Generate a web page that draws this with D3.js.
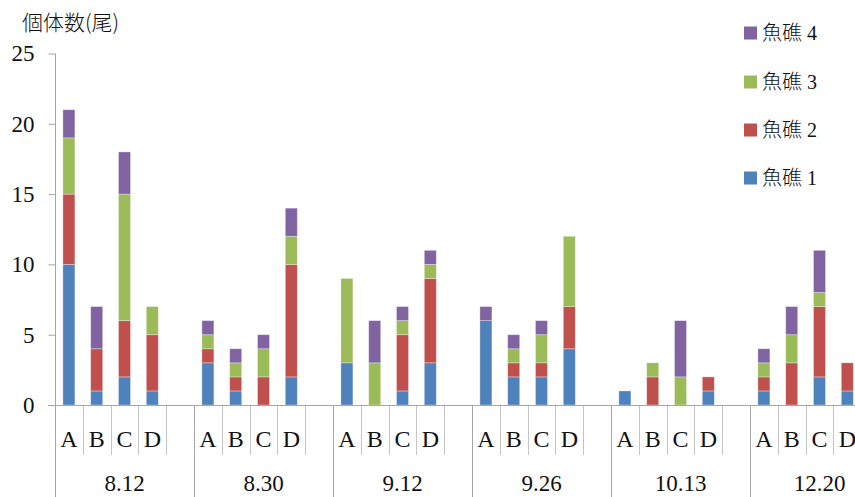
<!DOCTYPE html>
<html>
<head>
<meta charset="utf-8">
<script src="https://cdn.jsdelivr.net/npm/d3@7"></script>
<style>
  body { margin: 0; background: #fff; }
  svg { display: block; }
</style>
</head>
<body>
<svg id="chart" width="855" height="497"></svg>
<script>
// Survey dates and sampling sites
const dates = ["8.12", "8.30", "9.12", "9.26", "10.13", "12.20"];
const sites = ["A", "B", "C", "D"];
const seriesNames = ["魚礁 1", "魚礁 2", "魚礁 3", "魚礁 4"];

// Fish counts per reef: one row per date, one value per site (A–D)
const reef1 = [[10, 1, 2, 1], [3, 1, 0, 2], [3, 0, 1, 3], [6, 2, 2, 4], [1, 0, 0, 1], [1, 0, 2, 1]];
const reef2 = [[5, 3, 4, 4], [1, 1, 2, 8], [0, 0, 4, 6], [0, 1, 1, 3], [0, 2, 0, 1], [1, 3, 5, 2]];
const reef3 = [[4, 0, 9, 2], [1, 1, 2, 2], [6, 3, 1, 1], [0, 1, 2, 5], [0, 1, 2, 0], [1, 2, 1, 0]];
const reef4 = [[2, 3, 3, 0], [1, 1, 1, 2], [0, 3, 1, 1], [1, 1, 1, 0], [0, 0, 4, 0], [1, 2, 3, 0]];

const yTicks = [0, 5, 10, 15, 20, 25];
const colors = ["#4F81BD", "#C0504D", "#9BBB59", "#8064A2"];

const svg = d3.select("#chart");
const serif = "'Liberation Serif', 'DejaVu Serif', serif";
const cjk = "'Liberation Serif', 'Noto Sans CJK JP', sans-serif";

// Each date gets four site slots plus one empty spacer slot
const slotKeys = dates.flatMap(d => [...sites.map(s => d + "|" + s), d + "|"]);
const slotW = 27.8;
const x0 = 55;
const x = d3.scaleBand().domain(slotKeys).range([x0, x0 + slotKeys.length * slotW]);
const y = d3.scaleLinear().domain([0, 25]).range([405, 53.5]);

// Flat table for stacking
const keys = ["r1", "r2", "r3", "r4"];
const rows = [];
dates.forEach((d, i) => sites.forEach((s, j) => {
  rows.push({ key: d + "|" + s, r1: reef1[i][j], r2: reef2[i][j], r3: reef3[i][j], r4: reef4[i][j] });
}));
const stacked = d3.stack().keys(keys)(rows);

// Category axis: slot dividers (short) and date dividers (long)
const axisG = svg.append("g");
dates.forEach(d => {
  ["B", "C", "D", ""].forEach(s => {
    const xx = Math.round(x(d + "|" + s)) + 0.5;
    axisG.append("line").attr("x1", xx).attr("x2", xx).attr("y1", 405).attr("y2", 455)
      .attr("stroke", "#c4c4c4").attr("stroke-width", 1);
  });
  const xs = Math.round(x(d + "|A")) + 0.5;
  if (d !== dates[0]) {
    axisG.append("line").attr("x1", xs).attr("x2", xs).attr("y1", 405).attr("y2", 497)
      .attr("stroke", "#a6a6a6").attr("stroke-width", 1);
  }
});

// Bars
const barW = 12;
svg.append("g").selectAll("g").data(stacked).join("g")
  .attr("fill", (d, i) => colors[i])
  .selectAll("rect").data(d => d.filter(v => v[1] > v[0])).join("rect")
  .attr("x", d => x(d.data.key) + (x.bandwidth() - barW) / 2)
  .attr("width", barW)
  .attr("y", d => y(d[1]))
  .attr("height", d => y(d[0]) - y(d[1]))
  .attr("stroke", "rgba(255,255,255,0.4)")
  .attr("stroke-width", 0.8);

// Horizontal baseline
svg.append("line").attr("x1", 48).attr("x2", 855).attr("y1", 405.5).attr("y2", 405.5)
  .attr("stroke", "#a6a6a6").attr("stroke-width", 1.2);

// Value axis
const yAxis = d3.axisLeft(y).tickValues(yTicks).tickSize(7).tickPadding(14).tickSizeOuter(0);
const yg = svg.append("g").attr("transform", `translate(${x0 + 0.5},0)`).call(yAxis);
yg.select(".domain").remove();
yg.selectAll(".tick line").attr("stroke", "#a6a6a6");
yg.selectAll(".tick text").attr("font-family", serif).attr("font-size", 23).attr("fill", "#111");
svg.append("line").attr("x1", x0 + 0.5).attr("x2", x0 + 0.5).attr("y1", y(25)).attr("y2", 497)
  .attr("stroke", "#a6a6a6").attr("stroke-width", 1);

// Site letters
svg.append("g").selectAll("text").data(rows).join("text")
  .attr("x", d => x(d.key) + x.bandwidth() / 2)
  .attr("y", 447)
  .attr("text-anchor", "middle")
  .attr("font-family", serif).attr("font-size", 24).attr("fill", "#111")
  .text(d => d.key.split("|")[1]);

// Date labels centred under each group
svg.append("g").selectAll("text").data(dates).join("text")
  .attr("x", d => x(d + "|A") + slotW * 2.5)
  .attr("y", 491)
  .attr("text-anchor", "middle")
  .attr("font-family", serif).attr("font-size", 23).attr("fill", "#111")
  .text(d => d);

// Axis title
svg.append("text").attr("x", 22).attr("y", 30)
  .attr("font-family", "'Noto Sans CJK JP', sans-serif").attr("font-weight", 300)
  .attr("font-size", 21).attr("fill", "#111")
  .text("個体数(尾)");

// Legend (top item is the top segment of each stack)
const legendY = [178, 130, 82, 33];
const lg = svg.append("g").selectAll("g").data(seriesNames).join("g")
  .attr("transform", (d, i) => `translate(744,${legendY[i]})`);
lg.append("rect").attr("x", 0).attr("y", -6.5).attr("width", 13).attr("height", 13)
  .attr("fill", (d, i) => colors[i]);
lg.append("text").attr("x", 18).attr("y", 7)
  .attr("font-family", cjk).attr("font-weight", 300).attr("font-size", 20).attr("fill", "#111")
  .text(d => d);
</script>
</body>
</html>
